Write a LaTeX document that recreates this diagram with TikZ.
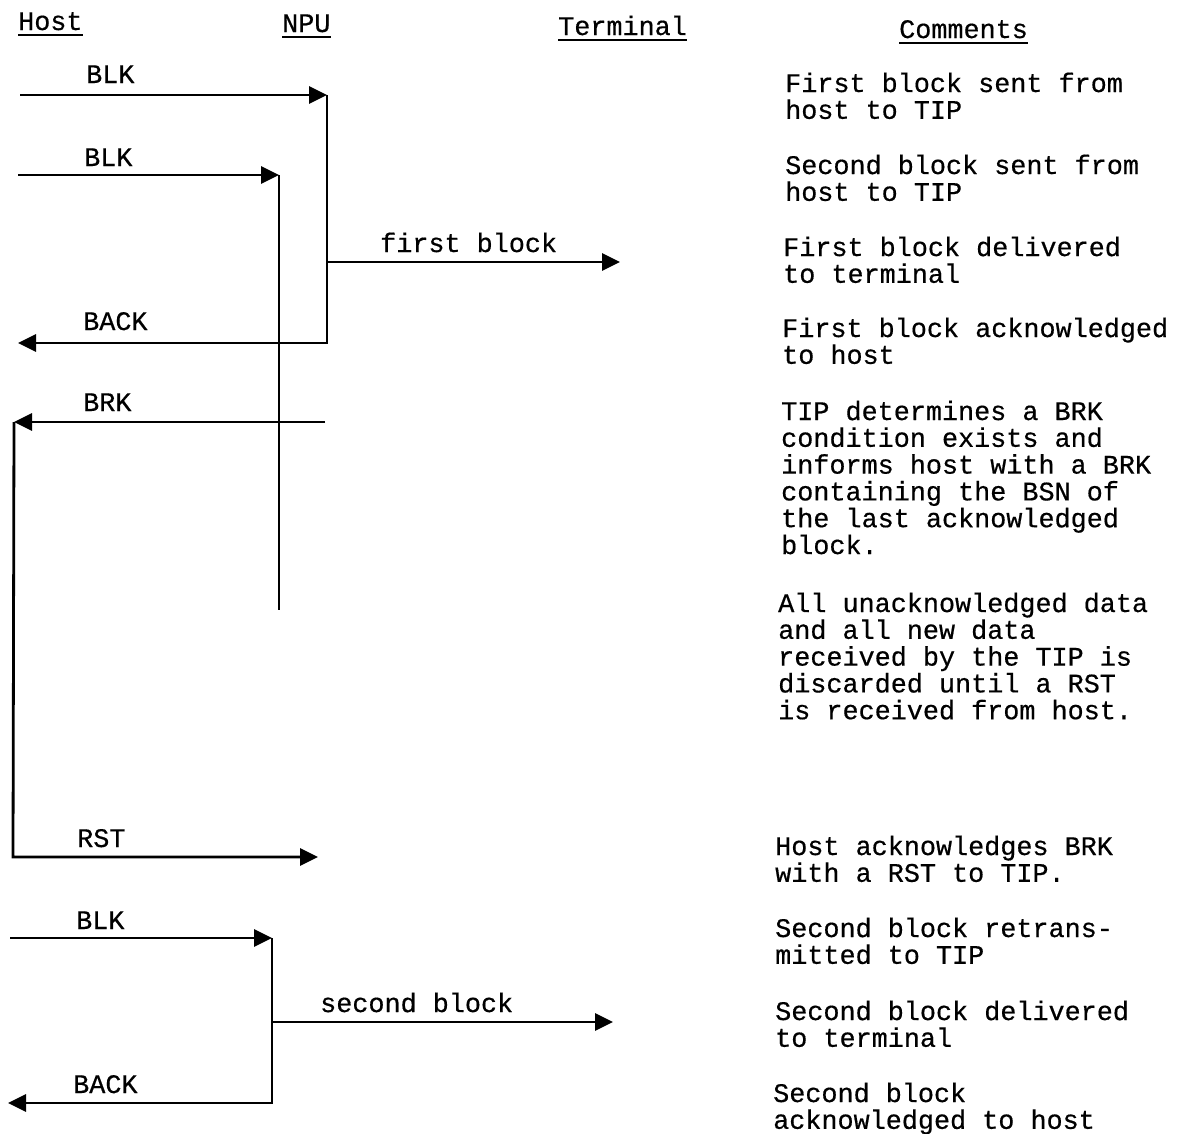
\documentclass[tikz,border=0pt]{standalone}
\usepackage{fontspec}
\setmonofont{Liberation Mono}[FakeBold=0.5]
\usetikzlibrary{arrows.meta}
\begin{document}
\begin{tikzpicture}[x=1pt,y=-1pt,
  txt/.style={font=\ttfamily\fontsize{26.8}{26.8}\selectfont, inner sep=0pt, anchor=base west},
  ln/.style={line width=2.8pt, line join=miter, line cap=butt},
  arr/.style={ln, -{Triangle[length=18pt,width=17pt]}},
  ul/.style={line width=1.8pt}]
\useasboundingbox[fill=white] (0,0) rectangle (1180,1133);

% headers
\node[txt] (hHost) at (18,30) {Host};
\node[txt] (hNPU) at (282,32) {NPU};
\node[txt] (hTerm) at (558,35) {Terminal};
\node[txt] (hCom) at (899,38) {Comments};
\foreach \h in {hHost,hNPU,hTerm,hCom}
  \draw[ul] ([yshift=-5pt]\h.base west) -- ([yshift=-5pt]\h.base east);

% coordinates
\coordinate (b1s) at (20,95);
\coordinate (b1e) at (327,95);
\coordinate (k1c) at (327,343);
\coordinate (k1e) at (18,343);
\coordinate (b2s) at (18,175);
\coordinate (b2e) at (279,175);
\coordinate (n2b) at (279,610);
\coordinate (f1s) at (327,262);
\coordinate (f1e) at (620,262);
\coordinate (brs) at (325,422);
\coordinate (brc) at (14,422);
\coordinate (rsc) at (13,857);
\coordinate (rse) at (318,857);
\coordinate (b3s) at (10,938);
\coordinate (b3e) at (272,938);
\coordinate (k2c) at (272,1103);
\coordinate (k2e) at (8,1103);
\coordinate (s2s) at (272,1022);
\coordinate (s2e) at (613,1022);

% connectors
\draw[arr] (b1s) -- (b1e);
\draw[arr] (b1e) -- (k1c) -- (k1e);
\draw[arr] (b2s) -- (b2e);
\draw[ln] (b2e) -- (n2b);
\draw[arr] (f1s) -- (f1e);
\draw[arr] (brs) -- (brc);
\draw[arr] (brc) -- (rsc) -- (rse);
\draw[arr] (b3s) -- (b3e);
\draw[arr] (b3e) -- (k2c) -- (k2e);
\draw[arr] (s2s) -- (s2e);

% connector labels
\node[txt] (lb1) at (86,83) {BLK};
\node[txt] (lb2) at (84,166) {BLK};
\node[txt] (lf1) at (380,252) {first block};
\node[txt] (lk1) at (83,330) {BACK};
\node[txt] (lbr) at (83,411) {BRK};
\node[txt] (lrs) at (77,847) {RST};
\node[txt] (lb3) at (76,929) {BLK};
\node[txt] (ls2) at (320,1012) {second block};
\node[txt] (lk2) at (73,1093) {BACK};

% comments
\begin{scope}[every node/.append style={font=\ttfamily\fontsize{26.8}{26.8}\selectfont}]
\node[txt] (c1) at (785,92) {\vtop{\hbox{First block sent from}\hbox{host to TIP}}};
\node[txt] (c2) at (785,174) {\vtop{\hbox{Second block sent from}\hbox{host to TIP}}};
\node[txt] (c3) at (783,256) {\vtop{\hbox{First block delivered}\hbox{to terminal}}};
\node[txt] (c4) at (782,337) {\vtop{\hbox{First block acknowledged}\hbox{to host}}};
\node[txt] (c5) at (781,420) {\vtop{\hbox{TIP determines a BRK}\hbox{condition exists and}\hbox{informs host with a BRK}\hbox{containing the BSN of}\hbox{the last acknowledged}\hbox{block.}}};
\node[txt] (c6) at (778,612) {\vtop{\hbox{All unacknowledged data}\hbox{and all new data}\hbox{received by the TIP is}\hbox{discarded until a RST}\hbox{is received from host.}}};
\node[txt] (c7) at (775,855) {\vtop{\hbox{Host acknowledges BRK}\hbox{with a RST to TIP.}}};
\node[txt] (c8) at (775,937) {\vtop{\hbox{Second block retrans-}\hbox{mitted to TIP}}};
\node[txt] (c9) at (775,1020) {\vtop{\hbox{Second block delivered}\hbox{to terminal}}};
\node[txt] (c10) at (773,1102) {\vtop{\hbox{Second block}\hbox{acknowledged to host}}};
\end{scope}
\end{tikzpicture}
\end{document}
